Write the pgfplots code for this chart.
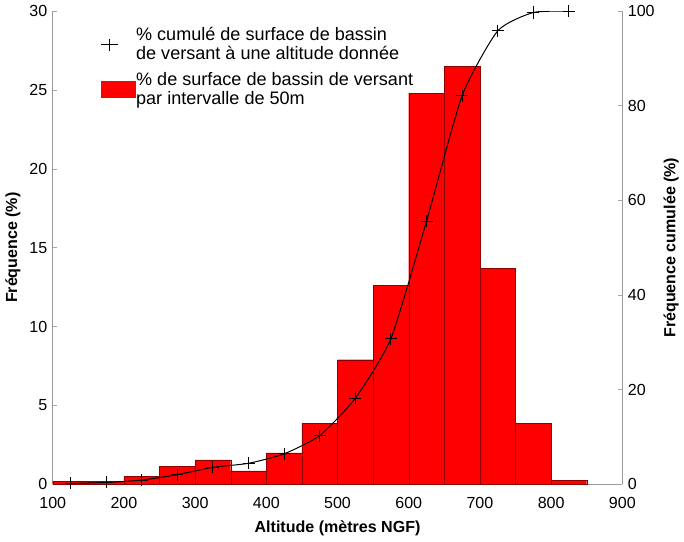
\documentclass[border=0pt]{standalone}
\usepackage{pgfplots}
\pgfplotsset{compat=1.18}
\usepackage{fontspec}
\setmainfont{Liberation Sans}

\pgfplotstableread{
x    f
100  0.20
150  0.20
200  0.50
250  1.15
300  1.55
350  0.85
400  2.00
450  3.86
500  7.90
550  12.60
600  24.80
650  26.50
700  13.70
750  3.88
800  0.25
850  0.25
}\freq

\pgfplotstableread{
x    c
125  0.20
175  0.40
225  0.90
275  2.05
325  3.60
375  4.45
425  6.45
475  10.31
525  18.21
575  30.81
625  55.61
675  82.11
725  95.81
775  99.69
825  99.94
}\cumul

\pgfplotsset{redbox/.style={legend image code/.code={
  \draw[#1] (0pt,-8pt) rectangle (34pt,8pt);}}}

\begin{document}
\fontsize{16}{19}\selectfont
\begin{tikzpicture}
\pgfplotsset{
  every axis/.append style={
    scale only axis, width=568pt, height=472pt,
    xmin=100, xmax=900,
    axis line style={gray!80, line width=0.8pt},
    tick style={gray!70, line width=0.6pt},
    major tick length=4pt,
    tick align=inside,
    tick label style={font=\fontsize{16}{19}\selectfont},
    label style={font=\fontsize{16}{19}\selectfont\bfseries},
    /pgf/number format/assume math mode=true,
  },
}
\begin{axis}[
  axis x line*=bottom, axis y line*=left,
  ymin=0, ymax=30,
  xtick={100,200,...,900},
  ytick={0,5,...,30},
  xlabel={Altitude (mètres NGF)},
  ylabel={Fréquence (\%)},
  x tick label style={yshift=-7pt},
  xlabel style={yshift=-2pt},
  ylabel style={yshift=-2pt},
  x tick style={draw=none},
]
\addplot[ybar interval, fill=red, draw=red!55!black, line width=0.4pt] table[x=x, y=f] {\freq};
\end{axis}
\begin{axis}[
  axis x line=none, axis y line*=right,
  ymin=0, ymax=100,
  ytick={0,20,...,100},
  ylabel={Fréquence cumulée (\%)},
  ylabel style={yshift=2pt},
  legend style={at={(0.078,0.972)}, anchor=north west, draw=none, fill=none,
    font=\fontsize{18}{19}\selectfont, row sep=8pt,
    nodes={align=left, inner sep=1pt}},
  legend cell align=left,
]
\addplot[black, line width=1pt, smooth, tension=0.35, mark=+, mark size=6pt,
  mark options={line width=1.1pt}] table[x=x, y=c] {\cumul};
\addlegendentry{\% cumulé de surface de bassin\\de versant à une altitude donnée}
\addlegendimage{fill=red, draw=red, redbox}
\addlegendentry{\% de surface de bassin de versant\\par intervalle de 50m}
\end{axis}
\end{tikzpicture}
\end{document}
